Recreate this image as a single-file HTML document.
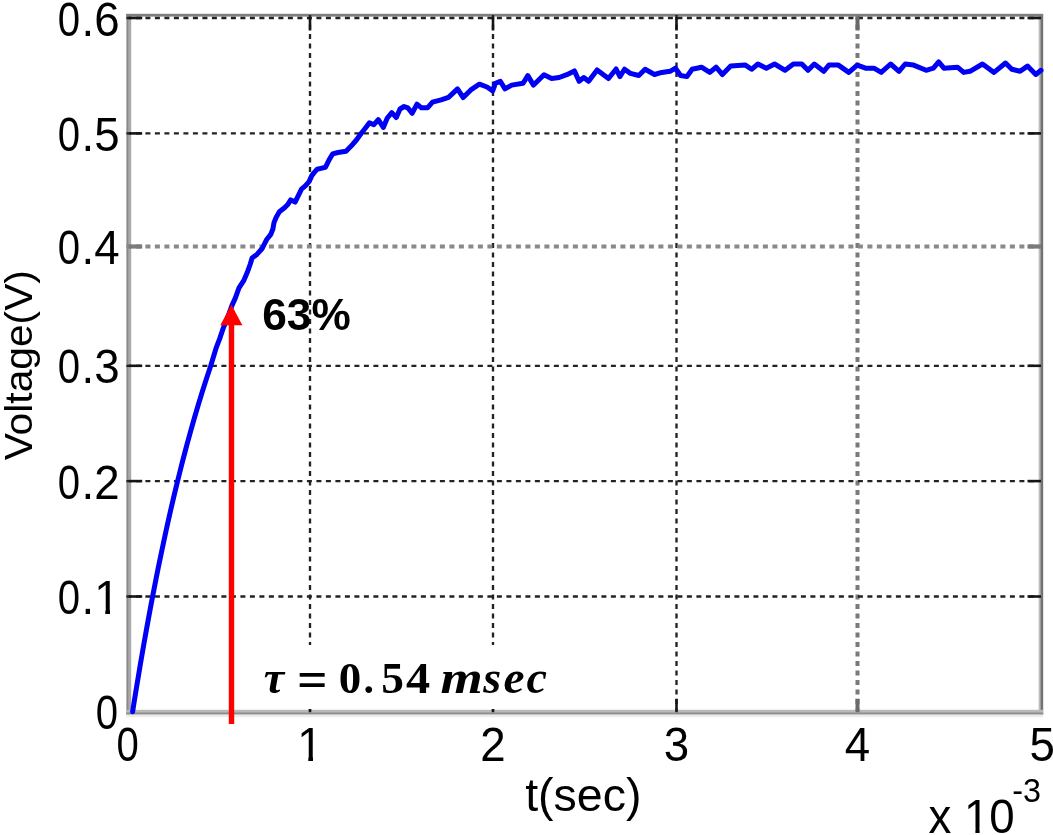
<!DOCTYPE html>
<html><head><meta charset="utf-8"><title>Voltage vs time</title>
<style>
html,body{margin:0;padding:0;background:#fff;}
body{width:1053px;height:835px;overflow:hidden;}
svg{display:block;filter:blur(0.7px);}
.lab{font-family:"Liberation Sans",sans-serif;fill:#000;}
.tau{font-family:"Liberation Serif",serif;font-weight:bold;fill:#000;}
</style></head><body>
<svg width="1053" height="835" viewBox="0 0 1053 835">
<rect width="1053" height="835" fill="#fff"/>
<!-- axes box -->
<rect x="126.3" y="14" width="4.9" height="700.5" fill="#a9a9a9"/>
<rect x="126.8" y="14" width="1.5" height="700.5" fill="#8a8a8a"/>
<rect x="1038.6" y="14" width="4.6" height="700.5" fill="#bdbdbd"/>
<rect x="1040.6" y="14" width="2.5" height="700.5" fill="#727272"/>
<rect x="126.3" y="709.8" width="916.8" height="4.9" fill="#b9b9b9"/>
<rect x="126.3" y="712.5" width="916.8" height="1.9" fill="#8e8e8e"/>
<rect x="126.3" y="714.7" width="916.8" height="2.5" fill="#ececec"/>
<rect x="126.3" y="13.8" width="916.8" height="2.8" fill="#7e7e7e"/>
<g stroke="#222" stroke-width="2.35" stroke-dasharray="5 4.5" fill="none">
<line x1="310.0" y1="15.0" x2="310.0" y2="710.2"/>
<line x1="493.0" y1="15.0" x2="493.0" y2="710.2"/>
<line x1="676.5" y1="15.0" x2="676.5" y2="710.2"/>
<line x1="857.5" y1="15.0" x2="857.5" y2="710.2" stroke="#7a7a7a" stroke-width="4"/>
<line x1="126.4" y1="133.4" x2="1039.0" y2="133.4"/>
<line x1="126.4" y1="246.5" x2="1039.0" y2="246.5" stroke="#8a8a8a" stroke-width="4.2"/>
<line x1="126.4" y1="365.8" x2="1039.0" y2="365.8"/>
<line x1="126.4" y1="481.1" x2="1039.0" y2="481.1"/>
<line x1="126.4" y1="596.5" x2="1039.0" y2="596.5"/>
<line x1="126.4" y1="18.0" x2="1039.0" y2="18.0"/>
</g>
<g stroke="#151515" stroke-width="2.6" fill="none">
<line x1="310.0" y1="17.0" x2="310.0" y2="30.5"/>
<line x1="310.0" y1="712.2" x2="310.0" y2="698.7"/>
<line x1="493.0" y1="17.0" x2="493.0" y2="30.5"/>
<line x1="493.0" y1="712.2" x2="493.0" y2="698.7"/>
<line x1="676.5" y1="17.0" x2="676.5" y2="30.5"/>
<line x1="676.5" y1="712.2" x2="676.5" y2="698.7"/>
<line x1="857.5" y1="17.0" x2="857.5" y2="30.5" stroke="#6a6a6a" stroke-width="4"/>
<line x1="857.5" y1="712.2" x2="857.5" y2="698.7" stroke="#6a6a6a" stroke-width="4"/>
<line x1="128.7" y1="133.4" x2="142.2" y2="133.4"/>
<line x1="1041.0" y1="133.4" x2="1027.5" y2="133.4"/>
<line x1="128.7" y1="246.5" x2="142.2" y2="246.5" stroke="#7a7a7a" stroke-width="4.2"/>
<line x1="1041.0" y1="246.5" x2="1027.5" y2="246.5" stroke="#7a7a7a" stroke-width="4.2"/>
<line x1="128.7" y1="365.8" x2="142.2" y2="365.8"/>
<line x1="1041.0" y1="365.8" x2="1027.5" y2="365.8"/>
<line x1="128.7" y1="481.1" x2="142.2" y2="481.1"/>
<line x1="1041.0" y1="481.1" x2="1027.5" y2="481.1"/>
<line x1="128.7" y1="596.5" x2="142.2" y2="596.5"/>
<line x1="1041.0" y1="596.5" x2="1027.5" y2="596.5"/>
<line x1="128.7" y1="18.0" x2="142.2" y2="18.0"/>
<line x1="1041.0" y1="18.0" x2="1027.5" y2="18.0"/>
</g>
<rect x="250" y="645" width="310" height="64" fill="#fff"/>
<polyline points="132.6,711.8 134.6,699.2 136.6,686.8 138.6,674.8 140.6,662.9 142.6,651.3 144.6,639.9 146.6,628.7 148.6,617.8 150.6,607.0 152.6,596.5 154.6,586.2 156.6,576.0 158.6,566.1 160.6,556.4 162.6,546.9 164.6,537.5 166.6,528.3 168.6,519.3 170.6,510.5 172.6,501.9 174.6,493.4 176.6,485.1 178.6,477.0 180.6,469.0 182.6,461.1 184.6,453.5 186.6,445.9 188.6,438.6 190.6,431.3 192.6,424.2 194.6,417.3 196.6,410.5 198.6,403.8 200.6,397.2 202.6,390.8 204.6,384.5 206.6,378.3 208.6,372.3 210.6,366.3 215.9,348.7 219.7,338.6 223.4,327.7 227.6,317.7 231.8,305.9 235.2,298.4 239.0,287.9 243.7,280.7 247.3,272.3 250.3,264.0 252.1,258.0 256.9,254.4 262.2,248.5 266.5,239.8 270.8,234.4 272.9,229.0 274.0,222.6 276.2,217.2 279.4,211.8 284.8,207.5 288.0,204.2 290.7,199.9 295.1,202.1 298.3,195.6 301.5,189.1 305.3,185.9 309.1,181.6 311.8,175.6 313.9,172.9 317.2,169.2 322.0,168.1 325.4,167.3 329.0,160.1 332.6,153.9 338.0,152.5 346.0,151.2 351.4,145.8 356.8,139.5 361.3,133.2 364.9,128.7 369.4,122.9 373.9,124.7 378.3,119.7 383.3,127.4 387.3,118.0 391.8,112.6 396.3,117.5 400.0,109.0 404.1,106.5 407.8,107.8 412.1,113.3 417.0,104.1 421.4,107.8 427.5,107.8 432.5,102.2 441.1,99.8 448.5,97.3 457.5,88.9 463.2,97.5 470.8,89.9 479.4,84.2 487.0,87.0 492.7,90.8 495.5,83.2 500.3,81.3 505.0,88.9 511.7,85.1 523.1,83.2 527.8,75.6 533.5,85.1 539.2,79.4 544.0,74.7 551.6,78.5 559.2,77.5 566.8,74.7 574.4,70.9 579.1,81.3 583.8,77.5 588.6,81.3 597.1,69.9 608.5,78.5 616.1,69.0 619.9,76.6 624.5,69.2 630.4,73.4 638.8,75.5 645.1,69.3 654.5,74.5 661.8,72.4 670.1,71.3 675.4,68.2 680.6,75.5 686.9,76.6 692.1,69.3 701.5,67.2 709.8,72.4 716.1,67.2 722.4,74.5 730.7,66.1 745.4,65.1 751.6,69.3 757.9,64.0 766.3,68.2 774.6,64.0 785.1,70.3 793.4,64.0 801.8,64.0 808.0,70.3 814.3,64.0 823.7,71.3 828.9,65.1 838.4,65.1 848.8,72.4 857.2,65.1 865.5,68.2 873.9,68.2 881.2,72.4 890.6,64.0 899.0,71.3 905.2,64.0 913.6,65.1 926.1,70.3 933.4,68.2 938.7,61.9 943.9,68.2 957.5,67.2 963.7,72.4 970.0,71.3 982.5,64.0 994.0,72.4 1005.5,63.0 1011.8,69.3 1020.1,71.3 1027.5,66.1 1035.8,74.5 1041.0,70.3" fill="none" stroke="#0000f4" stroke-width="5" stroke-linejoin="round" stroke-linecap="round"/>
<!-- red arrow -->
<line x1="231.5" y1="724" x2="231.5" y2="322" stroke="#ff0000" stroke-width="5.4"/>
<polygon points="231.3,304.5 220.3,325.2 242.4,325.2" fill="#ff0000"/>
<g class="lab" font-size="47.3">
<text transform="translate(119.6,35.9) scale(0.965,1)" text-anchor="end">.6</text>
<text transform="translate(68.84,35.9) scale(0.8492,1)" text-anchor="middle">0</text>
<text transform="translate(119.6,150.8) scale(0.965,1)" text-anchor="end">.5</text>
<text transform="translate(68.84,150.8) scale(0.8492,1)" text-anchor="middle">0</text>
<text transform="translate(119.6,263.9) scale(0.965,1)" text-anchor="end">.4</text>
<text transform="translate(68.84,263.9) scale(0.8492,1)" text-anchor="middle">0</text>
<text transform="translate(119.6,383.2) scale(0.965,1)" text-anchor="end">.3</text>
<text transform="translate(68.84,383.2) scale(0.8492,1)" text-anchor="middle">0</text>
<text transform="translate(119.6,498.5) scale(0.965,1)" text-anchor="end">.2</text>
<text transform="translate(68.84,498.5) scale(0.8492,1)" text-anchor="middle">0</text>
<text transform="translate(119.6,613.9) scale(0.965,1)" text-anchor="end">.1</text>
<text transform="translate(68.84,613.9) scale(0.8492,1)" text-anchor="middle">0</text>
<text transform="translate(106.91,729.3) scale(0.8492,1)" text-anchor="middle">0</text>
<text transform="translate(127.7,760.8) scale(0.8492,1)" text-anchor="middle">0</text>
<text transform="translate(310.0,760.8) scale(0.9650,1)" text-anchor="middle">1</text>
<text transform="translate(493.0,760.8) scale(0.9650,1)" text-anchor="middle">2</text>
<text transform="translate(676.5,760.8) scale(0.9650,1)" text-anchor="middle">3</text>
<text transform="translate(857.5,760.8) scale(0.9650,1)" text-anchor="middle">4</text>
<text transform="translate(1042.2,760.8) scale(0.9650,1)" text-anchor="middle">5</text>
<text x="583.3" y="811.3" text-anchor="middle" font-size="46.5">t(sec)</text>
<text transform="translate(928.5,832.6) scale(0.965,1)">x 10</text>
<text transform="translate(1012.3,802.2) scale(0.965,1)" font-size="33.5">-3</text>
</g>
<!-- hide Liberation's foot on "1" to mimic Helvetica/Arial -->
<g fill="#fff">
<rect x="299" y="756.6" width="9.3" height="4.8"/><rect x="313.0" y="756.6" width="8.5" height="4.8"/>
<rect x="96.5" y="609.1" width="8.8" height="5.0"/><rect x="110.0" y="609.1" width="8.5" height="5.0"/>
<rect x="966.5" y="828.6" width="8.9" height="4.8"/><rect x="979.6" y="828.6" width="8.4" height="4.8"/>
</g>
<text class="lab" font-size="39" transform="translate(32.0,365.2) rotate(-90) scale(1.045,1)" text-anchor="middle">Voltage(V)</text>
<text x="262.3" y="330.0" font-family="'Liberation Sans',sans-serif" font-weight="bold" font-size="44.2">63%</text>
<g class="tau">
<text transform="translate(263.8,693.0) scale(1.0,1.0)" font-size="46" font-style="italic">τ</text>
<text transform="translate(297.0,696.6) scale(1.28,1.27)" font-size="42" font-style="normal">=</text>
<text transform="translate(338.7,693.0) scale(1.07,1.04)" font-size="42" font-style="normal">0</text>
<text transform="translate(363.6,693.0) scale(1.0,1.0)" font-size="42" font-style="normal">.</text>
<text transform="translate(381.2,693.0) scale(1.08,1.04)" font-size="42" font-style="normal">5</text>
<text transform="translate(405.9,693.0) scale(1.15,1.04)" font-size="42" font-style="normal">4</text>
<text transform="translate(440.6,693.0) scale(1.18,1.0)" font-size="46" font-style="italic">m</text>
<text transform="translate(483.3,693.0) scale(1.0,1.0)" font-size="46" font-style="italic">s</text>
<text transform="translate(503.6,693.0) scale(1.03,1.0)" font-size="46" font-style="italic">e</text>
<text transform="translate(526.4,693.0) scale(1.0,1.0)" font-size="46" font-style="italic">c</text>
</g>
</svg>
</body></html>
